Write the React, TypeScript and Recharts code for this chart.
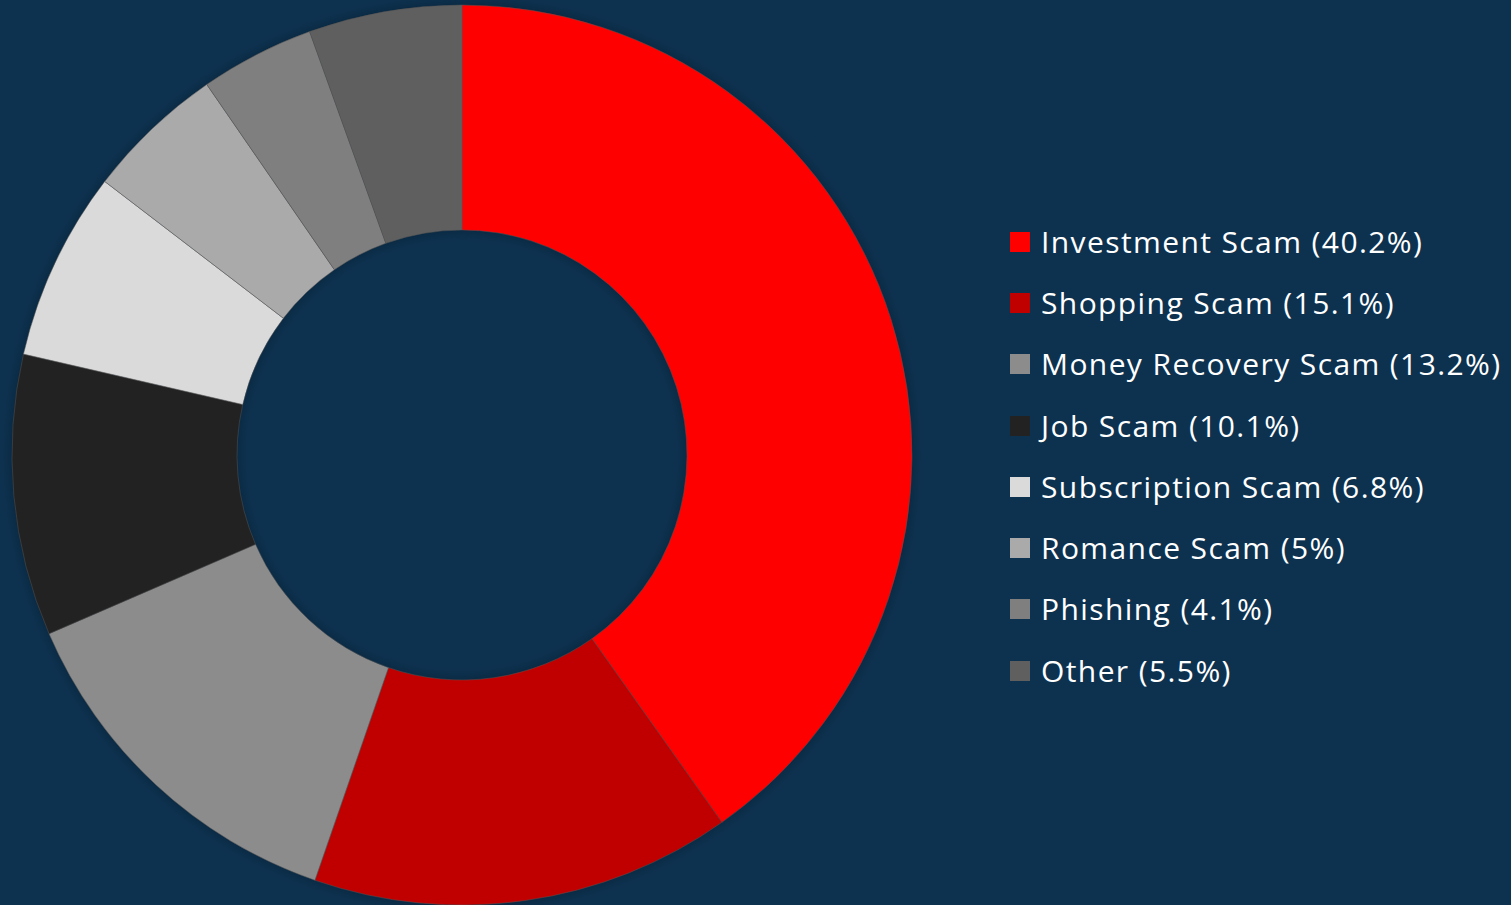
import React from 'react';
import { PieChart, Pie, Cell, Legend } from 'recharts';

const categories = [
  'Investment Scam',
  'Shopping Scam',
  'Money Recovery Scam',
  'Job Scam',
  'Subscription Scam',
  'Romance Scam',
  'Phishing',
  'Other',
];
const shares = [40.2, 15.1, 13.2, 10.1, 6.8, 5, 4.1, 5.5];
const colors = ['#ff0000', '#c00000', '#8c8c8c', '#222222', '#dadada', '#aaaaaa', '#7f7f7f', '#5f5f5f'];

const BG = '#0d3250';

const chartData = categories.map((name, i) => ({ name, value: shares[i] }));

// legend drawn by hand so the spacing matches the source
function renderLegend() {
  return (
    <div style={{ fontFamily: '"Open Sans", Lato, sans-serif' }}>
      {chartData.map((d, i) => (
        <div key={d.name} style={{ display: 'flex', alignItems: 'center', height: 61.3 }}>
          <span style={{ width: 20, height: 20, background: colors[i], marginRight: 11, flex: 'none' }} />
          <span style={{ color: '#ffffff', fontSize: 30, letterSpacing: 1.4, whiteSpace: 'nowrap', lineHeight: 1 }}>
            {d.name} ({d.value}%)
          </span>
        </div>
      ))}
    </div>
  );
}

export default function App() {
  return (
    <div style={{ position: 'absolute', left: 0, top: 0, width: 1511, height: 905, background: BG, overflow: 'hidden' }}>
      <PieChart width={1511} height={905} margin={{ top: 0, right: 0, bottom: 0, left: 0 }}>
        <defs>
          <filter id="ringShadow" x="-10%" y="-10%" width="120%" height="120%">
            <feGaussianBlur stdDeviation="7" />
          </filter>
        </defs>
        {/* soft halo behind the ring */}
        <Pie
          data={chartData}
          dataKey="value"
          cx={462}
          cy={455}
          innerRadius={225}
          outerRadius={450}
          startAngle={90}
          endAngle={-270}
          fill="#000000"
          fillOpacity={0.3}
          stroke="none"
          legendType="none"
          isAnimationActive={false}
          style={{ filter: 'url(#ringShadow)' }}
        />
        <Pie
          data={chartData}
          dataKey="value"
          nameKey="name"
          cx={462}
          cy={455}
          innerRadius={225}
          outerRadius={450}
          startAngle={90}
          endAngle={-270}
          stroke="#555555"
          strokeWidth={0.5}
          isAnimationActive={false}
        >
          {chartData.map((d, i) => (
            <Cell key={d.name} fill={colors[i]} />
          ))}
        </Pie>
        <Legend
          layout="vertical"
          align="right"
          verticalAlign="top"
          content={renderLegend}
          wrapperStyle={{ left: 1010, top: 211, width: 501 }}
        />
      </PieChart>
    </div>
  );
}
